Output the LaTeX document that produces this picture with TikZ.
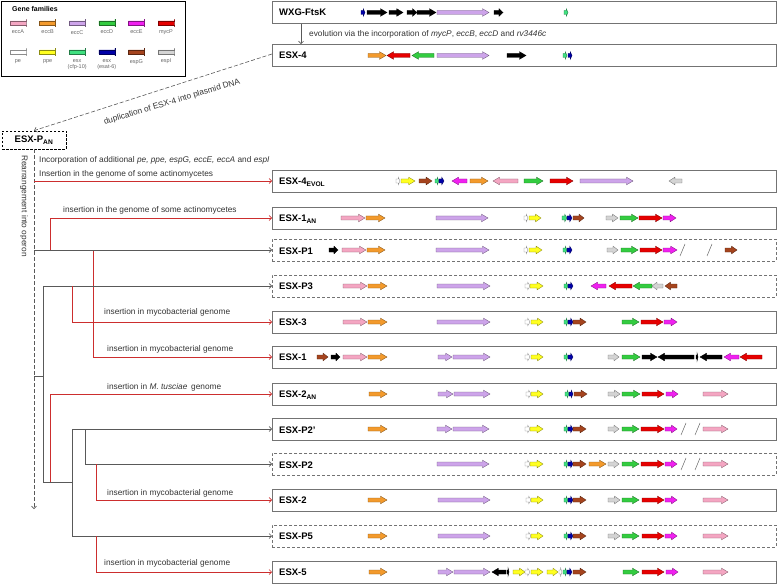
\documentclass[tikz,border=0pt]{standalone}
\usepackage{fontspec}
\setmainfont{Liberation Sans}
\usetikzlibrary{arrows.meta}
\definecolor{cA}{HTML}{F4A6C2}
\definecolor{cB}{HTML}{F39A2C}
\definecolor{cC}{HTML}{CDA4EA}
\definecolor{cD}{HTML}{33CC40}
\definecolor{cE}{HTML}{F020F0}
\definecolor{cM}{HTML}{E60000}
\definecolor{cPE}{HTML}{FFFFFF}
\definecolor{cPPE}{HTML}{FFFF20}
\definecolor{cCF}{HTML}{40E080}
\definecolor{cES}{HTML}{0000A8}
\definecolor{cG}{HTML}{A5441E}
\definecolor{cI}{HTML}{D4D4D4}
\definecolor{cK}{HTML}{000000}
\definecolor{rcol}{HTML}{CC2E2E}
\newcommand{\gene}[4]{%
  \pgfmathsetmacro{\gB}{#2-(#2>#1?1:-1)*min(6.5,abs(#2-#1)*0.45)}%
  \filldraw[fill=#4,draw=#4!55!black,line width=0.35pt]
    (#1,#3-2) -- (\gB,#3-2) -- (\gB,#3-3.8) -- (#2,#3) -- (\gB,#3+3.8) -- (\gB,#3+2) -- (#1,#3+2) -- cycle;}
\newcommand{\genebreak}[2]{\draw[black!60,line width=0.5pt] (#1,#2+6) -- (#1+5,#2-6);}
\begin{document}
\begin{tikzpicture}[x=1pt,y=-1pt,
  gline/.style={draw=black!65,line width=0.6pt},
  rline/.style={draw=rcol,line width=0.6pt},
  tipa/.style={-{Straight Barb[length=2.5pt,width=5pt]}},
  box/.style={draw=black!55,line width=0.8pt,minimum width=504pt,minimum height=22pt,anchor=west,inner sep=0pt},
  dbox/.style={box,dash pattern=on 3pt off 2pt},
  lab/.style={font=\bfseries\fontsize{9.5}{10}\selectfont,anchor=west,inner sep=0pt},
  note/.style={font=\fontsize{8.3}{9}\selectfont,text=black!80,anchor=west,inner sep=0pt},
  leg/.style={font=\fontsize{5.5}{6}\selectfont,text=black!60,align=center,inner sep=0pt,anchor=north}
]
\useasboundingbox (0,0) rectangle (778,585);

% ---------- legend ----------
\node[draw=black,line width=0.9pt,minimum width=184pt,minimum height=75pt,anchor=north west,inner sep=0pt] (legbox) at (1,1) {};
\node[font=\bfseries\fontsize{7}{8}\selectfont,anchor=west,inner sep=0pt] (gf) at (12,9) {Gene families};
\foreach \c/\t [count=\i from 0] in {cA/eccA,cB/eccB,cC/eccC,cD/eccD,cE/eccE,cM/mycP}{
  \pgfmathsetmacro{\cx}{18+29.6*\i}
  \gene{\cx-8}{\cx+8}{23}{\c}
  \node[leg] (l1\i) at (\cx,30) {\t};
}
\foreach \c/\t [count=\i from 0] in {cPE/pe,cPPE/ppe,cCF/{esx\\(cfp-10)},cES/{esx\\(esat-6)},cG/espG,cI/espI}{
  \pgfmathsetmacro{\cx}{18+29.6*\i}
  \gene{\cx-8}{\cx+8}{52}{\c}
  \node[leg] (l2\i) at (\cx,59) {\t};
}

% ---------- boxes ----------
\node[box] (wxg) at (272,12.5) {};
\node[lab] (wxgT) at (279,12.5) {WXG-FtsK};
\node[box] (e4) at (272,55.5) {};
\node[lab] (e4T) at (279,55.5) {ESX-4};
\node[box] (evol) at (272,181) {};
\node[lab] (evolT) at (279,182) {ESX-4\textsubscript{EVOL}};
\node[box] (an1) at (272,218) {};
\node[lab] (an1T) at (279,219) {ESX-1\textsubscript{AN}};
\node[dbox] (p1) at (272,250) {};
\node[lab] (p1T) at (279,251) {ESX-P1};
\node[dbox] (p3) at (272,286) {};
\node[lab] (p3T) at (279,286) {ESX-P3};
\node[box] (e3) at (272,322) {};
\node[lab] (e3T) at (279,322) {ESX-3};
\node[box] (e1) at (272,357) {};
\node[lab] (e1T) at (279,357) {ESX-1};
\node[box] (an2) at (272,394) {};
\node[lab] (an2T) at (279,395) {ESX-2\textsubscript{AN}};
\node[box] (p2b) at (272,429) {};
\node[lab] (p2bT) at (279,430) {ESX-P2'};
\node[dbox] (p2) at (272,464) {};
\node[lab] (p2T) at (279,465) {ESX-P2};
\node[box] (e2) at (272,500) {};
\node[lab] (e2T) at (279,500) {ESX-2};
\node[dbox] (p5) at (272,536) {};
\node[lab] (p5T) at (279,536) {ESX-P5};
\node[box] (e5) at (272,572) {};
\node[lab] (e5T) at (279,572) {ESX-5};

\node[draw=black,line width=0.8pt,dash pattern=on 2.5pt off 1.5pt,minimum width=64pt,minimum height=18pt,inner sep=0pt,font=\bfseries\fontsize{9.5}{10}\selectfont] (pan) at (34,140) {ESX-P\textsubscript{AN}};

% ---------- connectors ----------
\coordinate (c0) at (301,0);
\draw[gline,tipa] (c0 |- wxg.south) -- (c0 |- e4.north);
\node[note] (t0) at (309,34) {evolution via the incorporation of \textit{mycP}, \textit{eccB}, \textit{eccD} and \textit{rv3446c}};

\draw[gline,dash pattern=on 4pt off 2pt,tipa] ([yshift=1.5pt]e4.west) -- (pan.north);
\node[note,anchor=center,rotate=16.7] (t1) at (172,102) {duplication of ESX-4 into plasmid DNA};

\coordinate (dend) at (34,509);
\draw[gline,dash pattern=on 4pt off 2pt,tipa] (pan.south) -- (dend);
\node[note,anchor=center,rotate=-90] (t2) at (24,206) {Rearrangement into operon};

\node[note] (t3) at (39,160) {Incorporation of additional \textit{pe, ppe, espG, eccE, eccA} and \textit{espI}};
\node[note] (t4) at (39,174) {Insertion in the genome of some actinomycetes};
\draw[rline,tipa] (pan.south |- evol.west) -- (evol.west);

\node[note] (t5) at (63,210) {insertion in the genome of some actinomycetes};
\coordinate (r1) at (50,251);
\draw[rline,tipa] (r1) |- (an1.west);
\draw[gline,tipa] (pan.south |- p1.west) -- (p1.west);
\coordinate (r2) at (93,251);
\draw[rline,tipa] (r2) |- (e1.west);
\node[note] (t7) at (107,349) {insertion in mycobacterial genome};

\coordinate (k1) at (34,376);
\coordinate (k2) at (43,376);
\draw[gline] (k1) -- (k2);
\coordinate (k3) at (43,286);
\coordinate (k4) at (43,482);
\draw[gline] (k3) -- (k4);
\draw[gline,tipa] (k3) -- (p3.west);
\coordinate (r3) at (72,286);
\draw[rline,tipa] (r3) |- (e3.west);
\node[note] (t6) at (104,312) {insertion in mycobacterial genome};

\coordinate (k5) at (72,482);
\draw[gline] (k4) -- (k5);
\coordinate (r4) at (50,482);
\draw[rline,tipa] (r4) |- (an2.west);
\node[note] (t8) at (107,387) {insertion in \textit{M. tusciae}\, genome};

\coordinate (k6) at (72,429);
\coordinate (k7) at (72,536);
\draw[gline] (k6) -- (k7);
\draw[gline,tipa] (k6) -- (p2b.west);
\coordinate (k8) at (85,429);
\draw[gline,tipa] (k8) |- (p2.west);
\coordinate (r5) at (96,464);
\draw[rline,tipa] (r5) |- (e2.west);
\node[note] (t9) at (107,493) {insertion in mycobacterial genome};
\draw[gline,tipa] (k7) -- (p5.west);
\coordinate (r6) at (96,536);
\draw[rline,tipa] (r6) |- (e5.west);
\node[note] (t10) at (104,563) {insertion in mycobacterial genome};

% ---------- gene rows ----------
% WXG-FtsK
\gene{361}{365}{12.5}{cES}
\gene{367}{387}{12.5}{cK}
\gene{389}{403}{12.5}{cK}
\gene{407}{417}{12.5}{cK}
\gene{417}{436}{12.5}{cK}
\gene{437}{489}{12.5}{cC}
\gene{494}{503}{12.5}{cK}
\gene{564}{568}{12.5}{cCF}
% ESX-4
\gene{368}{386}{55.5}{cB}
\gene{410}{387}{55.5}{cM}
\gene{434}{412}{55.5}{cD}
\gene{437}{489}{55.5}{cC}
\gene{507}{526}{55.5}{cK}
\gene{563}{567}{55.5}{cCF}
\gene{568}{572}{55.5}{cES}
% ESX-4EVOL
\gene{396}{400}{181}{cPE}
\gene{401}{415}{181}{cPPE}
\gene{419}{432}{181}{cG}
\gene{435}{439}{181}{cCF}
\gene{439}{444}{181}{cES}
\gene{467}{452}{181}{cE}
\gene{470}{488}{181}{cB}
\gene{518}{493}{181}{cA}
\gene{524}{543}{181}{cD}
\gene{550}{573}{181}{cM}
\gene{580}{633}{181}{cC}
\gene{682}{669}{181}{cI}
% ESX-1AN
\gene{341}{365}{218}{cA}
\gene{366}{385}{218}{cB}
\gene{436}{488}{218}{cC}
\gene{524}{528}{218}{cPE}
\gene{529}{541}{218}{cPPE}
\gene{562}{567}{218}{cCF}
\gene{567}{572}{218}{cES}
\gene{573}{584}{218}{cG}
\gene{606}{618}{218}{cI}
\gene{620}{638}{218}{cD}
\gene{639}{662}{218}{cM}
\gene{663}{676}{218}{cE}
% ESX-P1
\gene{329}{338}{250}{cK}
\gene{342}{366}{250}{cA}
\gene{367}{385}{250}{cB}
\gene{436}{489}{250}{cC}
\gene{524}{528}{250}{cPE}
\gene{529}{542}{250}{cPPE}
\gene{563}{567}{250}{cCF}
\gene{567}{572}{250}{cES}
\gene{607}{618}{250}{cI}
\gene{621}{638}{250}{cD}
\gene{640}{662}{250}{cM}
\gene{663}{677}{250}{cE}
\genebreak{680}{250}
\genebreak{707}{250}
\gene{725}{737}{250}{cG}
% ESX-P3
\gene{343}{367}{286}{cA}
\gene{368}{387}{286}{cB}
\gene{437}{490}{286}{cC}
\gene{525}{530}{286}{cPE}
\gene{530}{543}{286}{cPPE}
\gene{564}{568}{286}{cCF}
\gene{568}{573}{286}{cES}
\gene{606}{591}{286}{cE}
\gene{632}{609}{286}{cM}
\gene{652}{633}{286}{cD}
\gene{663}{652}{286}{cI}
\gene{677}{665}{286}{cG}
% ESX-3
\gene{343}{367}{322}{cA}
\gene{368}{387}{322}{cB}
\gene{437}{490}{322}{cC}
\gene{525}{530}{322}{cPE}
\gene{531}{543}{322}{cPPE}
\gene{564}{568}{322}{cCF}
\gene{568}{573}{322}{cES}
\gene{573}{586}{322}{cG}
\gene{622}{639}{322}{cD}
\gene{641}{663}{322}{cM}
\gene{664}{677}{322}{cE}
% ESX-1
\gene{317}{328}{357}{cG}
\gene{331}{340}{357}{cK}
\gene{343}{367}{357}{cA}
\gene{368}{387}{357}{cB}
\gene{438}{452}{357}{cC}
\gene{453}{490}{357}{cC}
\gene{525}{530}{357}{cPE}
\gene{531}{543}{357}{cPPE}
\gene{564}{568}{357}{cCF}
\gene{568}{573}{357}{cES}
\gene{608}{619}{357}{cI}
\gene{622}{640}{357}{cD}
\gene{642}{657}{357}{cK}
\gene{694}{658}{357}{cK}
\gene{696}{698}{357}{cK}
\gene{722}{700}{357}{cK}
\gene{739}{724}{357}{cE}
\gene{762}{740}{357}{cM}
% ESX-2AN
\gene{369}{387}{394}{cB}
\gene{438}{453}{394}{cC}
\gene{454}{490}{394}{cC}
\gene{526}{531}{394}{cPE}
\gene{531}{543}{394}{cPPE}
\gene{565}{569}{394}{cCF}
\gene{569}{573}{394}{cES}
\gene{574}{587}{394}{cG}
\gene{608}{620}{394}{cI}
\gene{622}{640}{394}{cD}
\gene{642}{664}{394}{cM}
\gene{666}{678}{394}{cE}
\gene{703}{728}{394}{cA}
% ESX-P2'
\gene{368}{387}{429}{cB}
\gene{437}{452}{429}{cC}
\gene{453}{489}{429}{cC}
\gene{525}{530}{429}{cPE}
\gene{530}{543}{429}{cPPE}
\gene{564}{568}{429}{cCF}
\gene{568}{573}{429}{cES}
\gene{573}{586}{429}{cG}
\gene{608}{619}{429}{cI}
\gene{622}{639}{429}{cD}
\gene{641}{664}{429}{cM}
\gene{665}{677}{429}{cE}
\genebreak{681}{429}
\genebreak{695}{429}
\gene{703}{728}{429}{cA}
% ESX-P2
\gene{437}{489}{464}{cC}
\gene{525}{530}{464}{cPE}
\gene{530}{543}{464}{cPPE}
\gene{564}{568}{464}{cCF}
\gene{568}{573}{464}{cES}
\gene{573}{586}{464}{cG}
\gene{589}{606}{464}{cB}
\gene{608}{619}{464}{cI}
\gene{622}{639}{464}{cD}
\gene{641}{664}{464}{cM}
\gene{665}{677}{464}{cE}
\genebreak{681}{464}
\genebreak{695}{464}
\gene{703}{728}{464}{cA}
% ESX-2 and ESX-P5
\foreach \yy in {500,536}{
\gene{368}{387}{\yy}{cB}
\gene{438}{490}{\yy}{cC}
\gene{526}{531}{\yy}{cPE}
\gene{531}{543}{\yy}{cPPE}
\gene{564}{568}{\yy}{cCF}
\gene{568}{573}{\yy}{cES}
\gene{573}{586}{\yy}{cG}
\gene{608}{620}{\yy}{cI}
\gene{622}{639}{\yy}{cD}
\gene{642}{664}{\yy}{cM}
\gene{665}{677}{\yy}{cE}
\gene{703}{728}{\yy}{cA}
}
% ESX-5
\gene{369}{387}{572}{cB}
\gene{438}{453}{572}{cC}
\gene{454}{490}{572}{cC}
\gene{506}{492}{572}{cK}
\gene{507}{509}{572}{cK}
\gene{513}{525}{572}{cPPE}
\gene{525}{530}{572}{cPE}
\gene{531}{543}{572}{cPPE}
\gene{547}{558}{572}{cPPE}
\gene{559}{562}{572}{cPE}
\gene{563}{567}{572}{cCF}
\gene{567}{572}{572}{cES}
\gene{573}{586}{572}{cG}
\gene{623}{639}{572}{cD}
\gene{642}{664}{572}{cM}
\gene{666}{678}{572}{cE}
\gene{703}{728}{572}{cA}
\end{tikzpicture}
\end{document}
